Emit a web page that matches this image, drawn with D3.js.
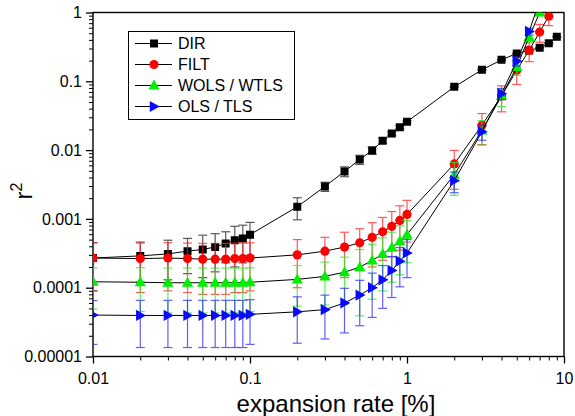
<!DOCTYPE html>
<html>
<head>
<meta charset="utf-8">
<script src="https://d3js.org/d3.v7.min.js"></script>
<style>
  body { margin: 0; background: #fff; }
  svg { display: block; font-family: "Liberation Sans", Arial, sans-serif; }
  .axis text { font-size: 16px; fill: #000; }
  .axis path, .axis line { stroke: #000; stroke-width: 1.3px; }
  .minor line { stroke-width: 1px; }
  .legend text { font-size: 16px; }
</style>
</head>
<body>
<svg id="chart" width="575" height="416"></svg>
<script>
// expansion rate [%]
const xVals = [0.01, 0.02, 0.03, 0.04, 0.05, 0.06, 0.07, 0.08, 0.09,
               0.1, 0.2, 0.3, 0.4, 0.5, 0.6, 0.7, 0.8, 0.9,
               1, 2, 3, 4, 5, 6, 7, 8, 9];

// r^2 values and errors, one array per series (null = no point)
const dirVals = [2.7e-4, 2.9e-4, 3.1e-4, 3.4e-4, 3.6e-4, 3.9e-4, 4.4e-4, 4.9e-4, 5.2e-4,
                 5.9e-4, 1.5e-3, 2.96e-3, 4.9e-3, 7.3e-3, 9.9e-3, 0.0137, 0.0174, 0.0215,
                 0.0258, 0.083, 0.147, 0.205, 0.254, 0.28, 0.307, 0.358, 0.443];
const dirErr  = [1.8e-4, 1.7e-4, 1.8e-4, 1.8e-4, 2.2e-4, 2.2e-4, 2.1e-4, 2.9e-4, 2.9e-4,
                 3.0e-4, 5.3e-4, 4.5e-4, 8e-4, 1.1e-3, 1.2e-3, 1.2e-3, 1.0e-3, 1.0e-3,
                 1.0e-3, 2e-3, 3e-3, 4e-3, 4e-3, 4e-3, 4e-3, 4e-3, 4e-3];

const filtVals = [2.7e-4, 2.65e-4, 2.7e-4, 2.65e-4, 2.6e-4, 2.6e-4, 2.6e-4, 2.65e-4, 2.65e-4,
                  2.7e-4, 3.0e-4, 3.4e-4, 3.9e-4, 4.5e-4, 5.4e-4, 6.5e-4, 7.8e-4, 9.5e-4,
                  1.16e-3, 6.3e-3, 0.023, 0.061, 0.145, 0.283, 0.52, 0.885, null];
const filtErr  = [1.8e-4, 1.8e-4, 1.8e-4, 1.8e-4, 1.8e-4, 1.8e-4, 1.8e-4, 1.8e-4, 1.8e-4,
                  1.8e-4, 2e-4, 2e-4, 2.5e-4, 2.7e-4, 3.4e-4, 4e-4, 5e-4, 6e-4,
                  7e-4, 3.6e-3, 0.011, 0.025, 0.055, 0.09, 0.15, 0.24, null];

const wolsVals = [1.22e-4, 1.2e-4, 1.18e-4, 1.18e-4, 1.18e-4, 1.18e-4, 1.18e-4, 1.18e-4, 1.18e-4,
                  1.2e-4, 1.32e-4, 1.46e-4, 1.68e-4, 1.99e-4, 2.48e-4, 3.1e-4, 3.8e-4, 4.74e-4,
                  5.9e-4, 4.4e-3, 0.0193, 0.061, 0.162, 0.44, 1.0, null, null];
const wolsErr  = [7.3e-5, 7.5e-5, 7.5e-5, 7.5e-5, 7.5e-5, 7.5e-5, 7.5e-5, 7.5e-5, 7.5e-5,
                  7.5e-5, 7.8e-5, 9e-5, 1.1e-4, 1.6e-4, 1.8e-4, 2.2e-4, 2.6e-4, 3.2e-4,
                  3.6e-4, 2.2e-3, 7.5e-3, 0.018, 0.04, 0.08, 0.1, null, null];

const olsVals = [4.0e-5, 3.95e-5, 3.95e-5, 3.95e-5, 3.95e-5, 3.95e-5, 3.95e-5, 3.95e-5, 3.95e-5,
                 4.1e-5, 4.46e-5, 4.8e-5, 6.0e-5, 7.8e-5, 1.0e-4, 1.3e-4, 1.78e-4, 2.43e-4,
                 3.2e-4, 3.6e-3, 0.0185, 0.066, 0.196, 0.53, 1.5, null, null];
const olsErr  = [2.5e-5, 2.6e-5, 2.6e-5, 2.6e-5, 2.6e-5, 2.6e-5, 2.6e-5, 2.6e-5, 2.6e-5,
                 2.6e-5, 2.9e-5, 3e-5, 3.8e-5, 5e-5, 6.3e-5, 8e-5, 1.06e-4, 1.4e-4,
                 1.8e-4, 1.2e-3, 4.6e-3, 0.012, 0.03, 0.06, 0.1, null, null];

const seriesNames = ["DIR", "FILT", "WOLS / WTLS", "OLS / TLS"];

const xTicks = [0.01, 0.1, 1, 10];
const xTickLabels = ["0.01", "0.1", "1", "10"];
const yTicks = [1e-5, 1e-4, 1e-3, 1e-2, 1e-1, 1];
const yTickLabels = ["0.00001", "0.0001", "0.001", "0.01", "0.1", "1"];

const svg = d3.select("#chart");
const margin = {left: 93, right: 11, top: 12.5, bottom: 59.5};
const W = 575, H = 416;

const x = d3.scaleLog().domain([0.01, 10]).range([margin.left, W - margin.right]);
const y = d3.scaleLog().domain([1e-5, 1]).range([H - margin.bottom, margin.top]);

// clip to plot area
svg.append("clipPath").attr("id", "clip")
  .append("rect")
  .attr("x", x.range()[0]).attr("y", y.range()[1])
  .attr("width", x.range()[1] - x.range()[0])
  .attr("height", y.range()[0] - y.range()[1]);

// minor ticks
const xMinor = x.ticks().filter(v => !xTicks.some(t => Math.abs(t - v) / t < 1e-6));
const yMinor = y.ticks().filter(v => !yTicks.some(t => Math.abs(t - v) / t < 1e-6));

svg.append("g").attr("class", "axis minor")
  .attr("transform", `translate(0,${y.range()[0]})`)
  .call(d3.axisBottom(x).tickValues(xMinor).tickSize(4).tickSizeOuter(0).tickFormat(""))
  .call(g => g.select(".domain").remove());
svg.append("g").attr("class", "axis minor")
  .attr("transform", `translate(${x.range()[0]},0)`)
  .call(d3.axisLeft(y).tickValues(yMinor).tickSize(4).tickSizeOuter(0).tickFormat(""))
  .call(g => g.select(".domain").remove());

// major ticks
svg.append("g").attr("class", "axis")
  .attr("transform", `translate(0,${y.range()[0]})`)
  .call(d3.axisBottom(x).tickValues(xTicks).tickSize(7).tickPadding(9).tickSizeOuter(0)
        .tickFormat((d, i) => xTickLabels[i]))
  .call(g => g.select(".domain").remove());
svg.append("g").attr("class", "axis")
  .attr("transform", `translate(${x.range()[0]},0)`)
  .call(d3.axisLeft(y).tickValues(yTicks).tickSize(7).tickPadding(4).tickSizeOuter(0)
        .tickFormat((d, i) => yTickLabels[i]))
  .call(g => g.select(".domain").remove());

// frame
svg.append("rect")
  .attr("x", x.range()[0]).attr("y", y.range()[1])
  .attr("width", x.range()[1] - x.range()[0])
  .attr("height", y.range()[0] - y.range()[1])
  .attr("fill", "none").attr("stroke", "#000").attr("stroke-width", 1.4);

// marker shapes
function markerPath(type) {
  if (type === "square") return "M-4,-4H4V4H-4Z";
  if (type === "circle") return "M-4.6,0A4.6,4.6 0 1,0 4.6,0A4.6,4.6 0 1,0 -4.6,0Z";
  if (type === "up") return "M0,-6L5.6,4L-5.6,4Z";
  return "M-4.2,-5.6L5.8,0L-4.2,5.6Z";
}

const series = [
  {name: seriesNames[0], vals: dirVals,  err: dirErr,  color: "#000000", barColor: "#222", shape: "square"},
  {name: seriesNames[1], vals: filtVals, err: filtErr, color: "#ff0000", barColor: "#ff2020", shape: "circle"},
  {name: seriesNames[2], vals: wolsVals, err: wolsErr, color: "#00ee00", barColor: "#22ee22", shape: "up"},
  {name: seriesNames[3], vals: olsVals,  err: olsErr,  color: "#0a0aff", barColor: "#2a2aff", shape: "right"}
];

const plot = svg.append("g").attr("clip-path", "url(#clip)");
const line = d3.line().x(d => x(d.x)).y(d => y(d.y));

series.forEach(s => {
  const pts = xVals.map((xv, i) => ({x: xv, y: s.vals[i], e: s.err[i]}))
                   .filter(d => d.y != null);
  const g = plot.append("g");

  // error bars
  const eb = g.selectAll("g.err").data(pts.filter(d => d.e)).join("g")
    .attr("stroke", s.barColor).attr("stroke-width", 1.2).attr("opacity", 0.75);
  const lo = d => y(Math.max(d.y - d.e, 1e-7));
  const hi = d => y(d.y + d.e);
  eb.append("line").attr("x1", d => x(d.x)).attr("x2", d => x(d.x)).attr("y1", lo).attr("y2", hi);
  eb.append("line").attr("x1", d => x(d.x) - 4.5).attr("x2", d => x(d.x) + 4.5).attr("y1", lo).attr("y2", lo);
  eb.append("line").attr("x1", d => x(d.x) - 4.5).attr("x2", d => x(d.x) + 4.5).attr("y1", hi).attr("y2", hi);

  // connecting line
  g.append("path").datum(pts).attr("d", line)
    .attr("fill", "none").attr("stroke", "#000").attr("stroke-width", 1);

  // markers
  g.selectAll("path.mk").data(pts).join("path").attr("class", "mk")
    .attr("transform", d => `translate(${x(d.x)},${y(d.y)})`)
    .attr("d", markerPath(s.shape))
    .attr("fill", s.color);
});

// legend
const legend = svg.append("g").attr("class", "legend");
legend.append("rect").attr("x", 128.5).attr("y", 31.5).attr("width", 166).attr("height", 88)
  .attr("fill", "#fff").attr("stroke", "#000").attr("stroke-width", 1);
series.forEach((s, i) => {
  const ly = 43.5 + i * 21;
  legend.append("line").attr("x1", 135).attr("x2", 172).attr("y1", ly).attr("y2", ly)
    .attr("stroke", "#000").attr("stroke-width", 1);
  legend.append("path").attr("transform", `translate(154,${ly})`)
    .attr("d", markerPath(s.shape)).attr("fill", s.color);
  legend.append("text").attr("x", 178).attr("y", ly).attr("dy", "0.36em").text(s.name);
});

// axis titles
svg.append("text").attr("x", 336).attr("y", 411.5).attr("text-anchor", "middle")
  .attr("font-size", 24).text("expansion rate [%]");

const yl = svg.append("text").attr("transform", "translate(32,191) rotate(-90)")
  .attr("text-anchor", "middle").attr("font-size", 24);
yl.append("tspan").text("r");
yl.append("tspan").attr("font-size", 16).attr("dy", -10).text("2");
</script>
</body>
</html>
